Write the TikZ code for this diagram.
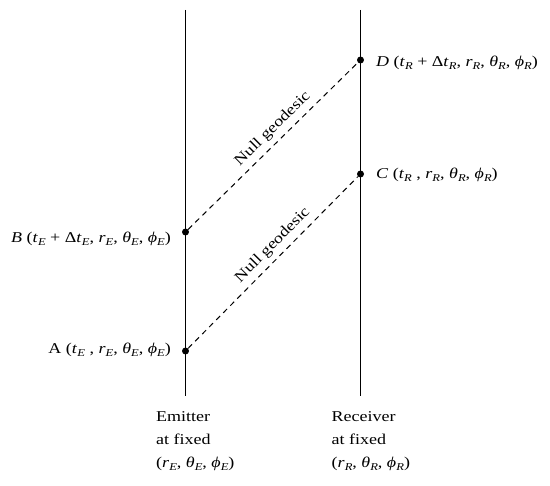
\documentclass[tikz,border=0pt]{standalone}
\usepackage{fontspec}
\setmainfont{Liberation Serif}[FakeStretch=1.2]
\newcommand{\vs}[2]{\textit{#1}\raisebox{-0.4ex}{\fontsize{10.5}{10.5}\selectfont\textit{#2}}}
\begin{document}
\begin{tikzpicture}[x=1pt,y=-1pt,
  dot/.style={circle,fill,inner sep=0pt,minimum size=7pt},
  lab/.style={font=\fontsize{15}{23}\selectfont, inner sep=0pt},
  geo/.style={line width=1pt, dash pattern=on 5.5pt off 4.5pt},
  world/.style={line width=0.9pt}]
\useasboundingbox (0,0) rectangle (550,486);
% world lines
\coordinate (Et) at (185.5,10);
\coordinate (Eb) at (185.5,396);
\coordinate (Rt) at (360.5,10);
\coordinate (Rb) at (360.5,396);
\draw[world] (Et) -- (Eb);
\draw[world] (Rt) -- (Rb);
% events
\node[dot] (A) at (185.5,351) {};
\node[dot] (B) at (185.5,232) {};
\node[dot] (C) at (360.5,174) {};
\node[dot] (D) at (360.5,60) {};
% null geodesics
\draw[geo] (B) -- node[lab, pos=0.55, sloped, above=5pt] (g1) {Null geodesic} (D);
\draw[geo] (A) -- node[lab, pos=0.55, sloped, above=5pt] (g2) {Null geodesic} (C);
% event labels
\node[lab, anchor=base east] (lB) at (171,243) {\textit{B} (\vs{t}{E} + Δ\vs{t}{E}, \vs{r}{E}, \vs{θ}{E}, \vs{ϕ}{E})};
\node[lab, anchor=base east] (lA) at (171,354) {A (\vs{t}{E} , \vs{r}{E}, \vs{θ}{E}, \vs{ϕ}{E})};
\node[lab, anchor=base west] (lD) at (376,67) {\textit{D} (\vs{t}{R} + Δ\vs{t}{R}, \vs{r}{R}, \vs{θ}{R}, \vs{ϕ}{R})};
\node[lab, anchor=base west] (lC) at (376,179) {\textit{C} (\vs{t}{R} , \vs{r}{R}, \vs{θ}{R}, \vs{ϕ}{R})};
% observer labels (base anchor = last line)
\node[lab, anchor=base west, align=left] (em) at (156,468) {Emitter\\at fixed\\(\vs{r}{E}, \vs{θ}{E}, \vs{ϕ}{E})};
\node[lab, anchor=base west, align=left] (rc) at (331.5,468) {Receiver\\at fixed\\(\vs{r}{R}, \vs{θ}{R}, \vs{ϕ}{R})};
\end{tikzpicture}
\end{document}
